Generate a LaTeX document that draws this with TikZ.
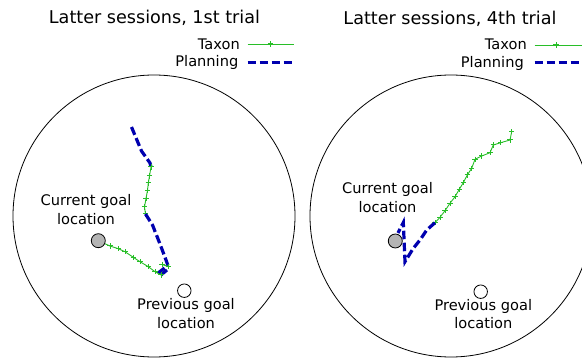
\documentclass[tikz,border=0pt]{standalone}
\usepackage{fontspec}
\setmainfont{DejaVu Sans}
\definecolor{taxgreen}{RGB}{40,190,40}
\definecolor{planblue}{RGB}{0,0,175}
\definecolor{goalgray}{RGB}{180,180,180}
\begin{document}
\begin{tikzpicture}[x=1pt,y=-1pt,
  arena/.style={draw=black,line width=0.8pt},
  taxon/.style={draw=taxgreen,line width=0.9pt,line join=round},
  planning/.style={draw=planblue,line width=3.2pt,dash pattern=on 8.5pt off 3.5pt},
  titletext/.style={font=\fontsize{17.6}{21}\selectfont,anchor=base},
  lbl/.style={font=\fontsize{14.6}{18.8}\selectfont,align=center,inner sep=0pt},
  legtext/.style={font=\fontsize{14.6}{16}\selectfont,anchor=base east,inner sep=0pt},
  curgoal/.style={circle,draw=black,fill=goalgray,line width=0.8pt,minimum size=14pt,inner sep=0pt},
  prevgoal/.style={circle,draw=black,fill=white,line width=0.8pt,minimum size=13.5pt,inner sep=0pt},
  tmark/.style={mark=+,mark size=2.6pt,mark options={solid,line width=1pt,draw=taxgreen}}]
\useasboundingbox[fill=white] (0,0) rectangle (582,358);

% ---------------- left panel ----------------
\node[titletext] (t1) at (154.5,23.5) {Latter sessions, 1st trial};
\node[legtext] (l1tax) at (240,49.5) {Taxon};
\node[legtext] (l1pl) at (238.5,66.6) {Planning};
\coordinate (l1a) at (247.5,44);
\coordinate (l1b) at (293.5,44);
\draw[taxon] (l1a) -- (l1b);
\draw[taxon,tmark] plot coordinates {(270.5,44)};
\draw[planning] (247.5,62.3) -- (293.5,62.3);

\draw[arena] (154,216) circle[radius=141];

\draw[planning] (131.5,127) -- (136.5,139) -- (141.5,151) -- (150,163) -- (151,167);
\draw[taxon,tmark] plot coordinates {(151,167) (149.5,176) (148.3,183) (147.5,190.5) (146,198.5) (144.5,207) (145.5,214)};
\draw[planning] (145.5,214) -- (152.5,225) -- (160,244) -- (166,260) -- (168.3,266.5);
\draw[taxon,tmark] plot coordinates {(168.3,266.5) (162,264.5)};
\draw[planning] (164.5,268) -- (157.5,273.5);
\draw[planning] (167,270) -- (161,275);

\node[curgoal] (cg1) at (98.3,240.7) {};
\node[prevgoal] (pg1) at (184.3,290.7) {};
\draw[taxon,tmark] plot coordinates {(161,275) (155,271.7) (148.3,266.7) (140,261.7) (133.3,257.3) (125,251.7) (118.3,248.7) (110,246)};
\draw[taxon] (110,246) -- (cg1);

\node[lbl,anchor=base] (cl1) at (86,224.5) {Current goal\\location};
\node[lbl,anchor=base] (pl1) at (186,328.5) {Previous goal\\location};

% ---------------- right panel ----------------
\node[titletext] (t2) at (450,24.5) {Latter sessions, 4th trial};
\node[legtext] (l2tax) at (527,50) {Taxon};
\node[legtext] (l2pl) at (524,67.2) {Planning};
\draw[taxon] (534.5,45) -- (582,45);
\draw[taxon,tmark] plot coordinates {(556,45)};
\draw[planning] (534.5,62.3) -- (582,62.3);

\draw[arena] (451,216) circle[radius=141];

\draw[taxon,tmark] plot coordinates {(511.7,131.7) (510,140) (500.7,142.7) (493.3,145) (490,152.7) (481.7,156) (475,159.3) (471.7,168.3) (467.3,175) (463.3,182.7) (459.3,189.3) (455,196.7) (450,203.3) (445,210.7) (440,217.3) (435,222.7)};
\draw[planning] (435,222.7) -- (426.7,230) -- (420,240) -- (413.3,248.3) -- (405,261.7) -- (403.3,222.5) -- (398,233);

\node[curgoal] (cg2) at (395.3,241) {};
\node[prevgoal] (pg2) at (480.7,291.7) {};

\node[lbl,anchor=base] (cl2) at (387.5,212.5) {Current goal\\location};
\node[lbl,anchor=base] (pl2) at (483.3,329) {Previous goal\\location};
\end{tikzpicture}
\end{document}
